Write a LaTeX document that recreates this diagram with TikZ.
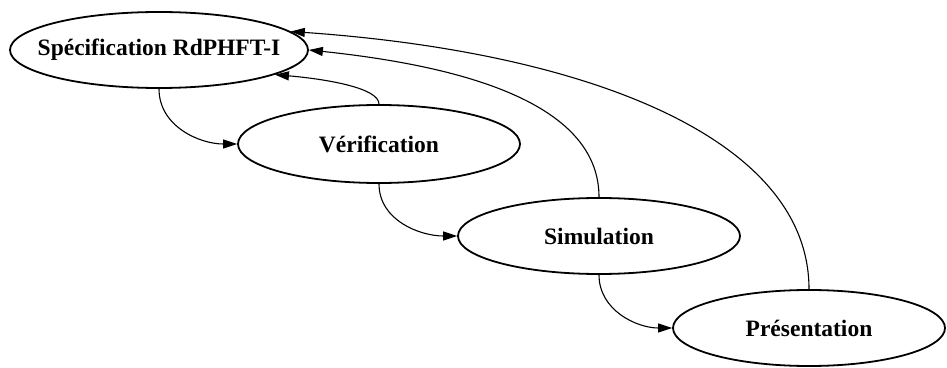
\documentclass[tikz,border=0pt]{standalone}
\usepackage{fontspec}
\setmainfont{Liberation Serif}
\usetikzlibrary{arrows.meta,shapes.geometric}
\tikzset{
  ell/.style={draw, ellipse, line width=1.8pt, inner sep=0pt},
  lbl/.style={font=\fontsize{23.5}{26}\selectfont\bfseries, inner sep=0pt},
  conn/.style={line width=1.1pt, -{Triangle[length=14pt,width=9pt]}}
}
\begin{document}
\begin{tikzpicture}[x=1pt,y=1pt]
\useasboundingbox (0,0) rectangle (947,367);
\node[ell, minimum width=298pt, minimum height=76pt, label={[lbl]center:Spécification RdPHFT-I}] (spec) at (159,317) {};
\node[ell, minimum width=282pt, minimum height=78pt, label={[lbl]center:Vérification}] (ver) at (379,223) {};
\node[ell, minimum width=282pt, minimum height=76pt, label={[lbl]center:Simulation}] (sim) at (599,131) {};
\node[ell, minimum width=272pt, minimum height=76pt, label={[lbl]center:Présentation}] (pres) at (809,39) {};
% forward connectors
\draw[conn] (spec.south) to[out=-90,in=180] (ver.west);
\draw[conn] (ver.south) to[out=-90,in=180] (sim.west);
\draw[conn] (sim.south) to[out=-90,in=180] (pres.west);
% back connectors
\draw[conn] (ver.north) to[out=90,in=-5,out distance=16pt,in distance=53pt] (spec.-12);
\draw[conn] (sim.north) to[out=90,in=-6,out distance=85pt,in distance=180pt] (spec.east);
\draw[conn] (pres.north) to[out=90,in=-4,out distance=150pt,in distance=300pt] (spec.8);
\end{tikzpicture}
\end{document}
